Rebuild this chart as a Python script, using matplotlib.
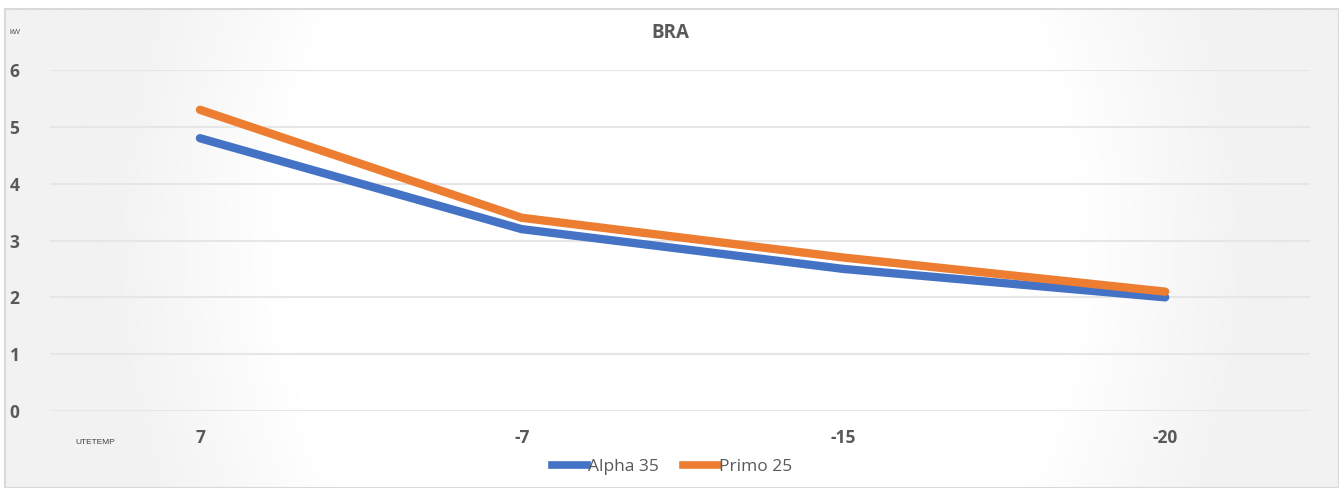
import numpy as np
import matplotlib
matplotlib.use("Agg")
import matplotlib.pyplot as plt
from matplotlib.lines import Line2D
from matplotlib.patches import Rectangle

categories = ["7", "-7", "-15", "-20"]
alpha35 = [4.8, 3.2, 2.5, 2.0]
primo25 = [5.3, 3.4, 2.7, 2.1]
series_names = ["Alpha 35", "Primo 25"]
yticks = [0, 1, 2, 3, 4, 5, 6]

W, H = 1339, 488
fig = plt.figure(figsize=(W / 100, H / 100), dpi=100)
fig.patch.set_facecolor("white")

# background gradient (white centre, light gray edges)
bg = fig.add_axes([5 / W, 0, 1 - 5 / W, 1 - 9 / H], zorder=0)
xx, yy = np.meshgrid(np.linspace(5, W, 400), np.linspace(9, H, 150))
d = np.sqrt(((xx - 680) / 560.0) ** 2 + ((yy - 250) / 650.0) ** 2)
t = np.clip((d - 0.72) / 0.3, 0, 1)
g = 1.0 - t * (1.0 - 0xF2 / 255.0)
img = np.dstack([g, g, g])
bg.imshow(img, aspect="auto", extent=[0, 1, 0, 1], interpolation="bilinear")
bg.set_xlim(0, 1)
bg.set_ylim(0, 1)
bg.axis("off")
bg.add_patch(Rectangle((0, 0), 1, 1, fill=False, edgecolor="#d9d9d9", lw=1.5,
                       transform=bg.transAxes, clip_on=False))

left, right = 50 / W, 1310 / W
bottom, top = 1 - 411 / H, 1 - 70 / H
ax = fig.add_axes([left, bottom, right - left, top - bottom], zorder=1)
ax.patch.set_alpha(0)

x = np.arange(len(categories))
blue = "#4472C4"
orange = "#ED7D31"
ax.plot(x, alpha35, color=blue, lw=6, solid_capstyle="round", solid_joinstyle="round", zorder=3)
ax.plot(x, primo25, color=orange, lw=6, solid_capstyle="round", solid_joinstyle="round", zorder=3)

ax.set_xlim(-0.466, 3.45)
ax.set_ylim(0, 6)
ax.set_yticks(yticks)
ax.set_yticklabels([str(v) for v in yticks])
ax.set_xticks(x)
ax.set_xticklabels(categories)
ax.grid(axis="y", color="#e6e6e6", lw=1.5, zorder=1)
ax.grid(axis="x", visible=False)
for s in ax.spines.values():
    s.set_visible(False)
ax.tick_params(axis="both", length=0, labelsize=12.5, labelcolor="#595959")
ax.tick_params(axis="y", pad=22)
ax.tick_params(axis="x", pad=13)
for lab in ax.get_xticklabels() + ax.get_yticklabels():
    lab.set_fontfamily("Open Sans")
    lab.set_fontweight("bold")

fig.text(670 / W, 1 - 33 / H, "BRA", ha="center", va="center", fontsize=13.5,
         fontweight="bold", color="#595959", family="Open Sans")
fig.text(10 / W, 1 - 32 / H, "kW", ha="left", va="center", fontsize=5.5,
         color="#595959", family="Liberation Sans")
fig.text(75 / W, 1 - 443 / H, "UTETEMP", ha="left", va="center", fontsize=6,
         color="#404040", family="Liberation Sans")

handles = [Line2D([], [], color=blue, lw=5.5), Line2D([], [], color=orange, lw=5.5)]
fig.legend(handles, series_names, loc="center", bbox_to_anchor=(672 / W, 1 - 467 / H),
           ncol=2, frameon=False, handlelength=2.0, handletextpad=0.05, columnspacing=1.4,
           prop={"family": "Open Sans", "size": 12.5},
           labelcolor="#595959")

fig.savefig("out.png", dpi=100)
